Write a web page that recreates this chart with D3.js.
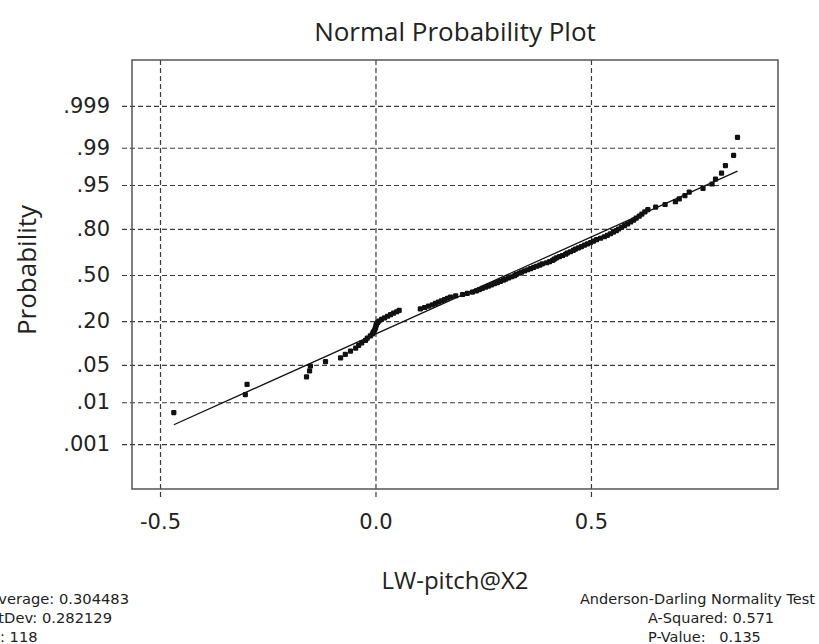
<!DOCTYPE html>
<html lang="en">
<head>
    <meta charset="UTF-8">
    <title>Normal Probability Plot</title>
    <script src="https://cdn.jsdelivr.net/npm/d3@7/dist/d3.min.js"></script>
    <style>
        body { margin: 0; background: #fff; }
        text { font-family: "Open Sans", "Noto Sans", sans-serif; fill: #222; }
        .mono { font-family: "DejaVu Sans", Verdana, sans-serif; }
    </style>
</head>
<body>
<script>
    const values = [
        -0.468, -0.302, -0.298, -0.160, -0.153, -0.151, -0.116, -0.081, -0.070, -0.058,
        -0.046, -0.039, -0.032, -0.023, -0.019, -0.012, -0.007, -0.005, -0.002, 0.000,
        0.001, 0.002, 0.005, 0.008, 0.014, 0.021, 0.028, 0.035, 0.042, 0.049,
        0.055, 0.104, 0.114, 0.123, 0.132, 0.139, 0.146, 0.153, 0.160, 0.167,
        0.174, 0.186, 0.202, 0.213, 0.225, 0.234, 0.241, 0.248, 0.255, 0.262,
        0.269, 0.276, 0.283, 0.290, 0.297, 0.302, 0.309, 0.316, 0.323, 0.327,
        0.334, 0.339, 0.346, 0.353, 0.360, 0.367, 0.374, 0.381, 0.387, 0.397,
        0.404, 0.411, 0.415, 0.420, 0.427, 0.434, 0.441, 0.445, 0.452, 0.459,
        0.464, 0.471, 0.478, 0.485, 0.492, 0.499, 0.506, 0.513, 0.522, 0.531,
        0.538, 0.545, 0.552, 0.559, 0.564, 0.571, 0.578, 0.585, 0.592, 0.599,
        0.605, 0.612, 0.618, 0.625, 0.632, 0.650, 0.672, 0.696, 0.705, 0.718,
        0.728, 0.760, 0.781, 0.789, 0.803, 0.812, 0.831, 0.840
    ];
    const average = 0.304483;
    const stDev = 0.282129;
    const aSquared = 0.571;
    const pValue = 0.135;

    const xTicks = [-0.5, 0.0, 0.5];
    const xTickLabels = ["-0.5", "0.0", "0.5"];
    const probTicks = [0.999, 0.99, 0.95, 0.80, 0.50, 0.20, 0.05, 0.01, 0.001];
    const probTickLabels = [".999", ".99", ".95", ".80", ".50", ".20", ".05", ".01", ".001"];

    // inverse standard normal cdf (Acklam)
    function qnorm(p) {
        const a = [-39.69683028665376, 220.9460984245205, -275.9285104469687, 138.3577518672690, -30.66479806614716, 2.506628277459239];
        const b = [-54.47609879822406, 161.5858368580409, -155.6989798598866, 66.80131188771972, -13.28068155288572];
        const c = [-0.007784894002430293, -0.3223964580411365, -2.400758277161838, -2.549732539343734, 4.374664141464968, 2.938163982698783];
        const d = [0.007784695709041462, 0.3224671290700398, 2.445134137142996, 3.754408661907416];
        const pl = 0.02425;
        let q, r;
        if (p < pl) {
            q = Math.sqrt(-2 * Math.log(p));
            return (((((c[0]*q+c[1])*q+c[2])*q+c[3])*q+c[4])*q+c[5]) / ((((d[0]*q+d[1])*q+d[2])*q+d[3])*q+1);
        } else if (p <= 1 - pl) {
            q = p - 0.5; r = q*q;
            return (((((a[0]*r+a[1])*r+a[2])*r+a[3])*r+a[4])*r+a[5])*q / (((((b[0]*r+b[1])*r+b[2])*r+b[3])*r+b[4])*r+1);
        } else {
            q = Math.sqrt(-2 * Math.log(1 - p));
            return -(((((c[0]*q+c[1])*q+c[2])*q+c[3])*q+c[4])*q+c[5]) / ((((d[0]*q+d[1])*q+d[2])*q+d[3])*q+1);
        }
    }

    let width = 819;
    let height = 644;
    let margin = { top: 60, right: 41, bottom: 155, left: 132 };

    let svg = d3.select("body").append("svg")
        .attr("width", width)
        .attr("height", height);

    let x = d3.scaleLinear()
        .domain([-0.565, 0.934])
        .range([margin.left, width - margin.right]);

    let y = d3.scaleLinear()
        .domain([-3.912, 3.93])
        .range([height - margin.bottom, margin.top]);

    const n = values.length;
    const points = values.map((v, i) => ({ v: v, z: qnorm((i + 1 - 0.3) / (n + 0.4)) }));

    // grid lines (dashed), running a little past the frame as ticks
    let yAxis = d3.axisLeft(y)
        .tickValues(probTicks.map(qnorm))
        .tickFormat((d, i) => probTickLabels[i])
        .tickSizeOuter(0);

    let gy = svg.append("g")
        .attr("transform", `translate(${margin.left - 10},0)`)
        .call(yAxis);
    gy.select(".domain").remove();
    gy.selectAll("line")
        .attr("x1", 0)
        .attr("x2", width - margin.right - margin.left + 10)
        .attr("stroke", "#3a3a3a")
        .attr("stroke-width", 1.2)
        .attr("stroke-dasharray", "5,3");
    gy.selectAll("text")
        .attr("class", "mono")
        .attr("x", -12)
        .attr("font-size", "21px")
        .style("fill", "#222");

    let xAxis = d3.axisBottom(x)
        .tickValues(xTicks)
        .tickFormat((d, i) => xTickLabels[i])
        .tickSizeOuter(0);

    let gx = svg.append("g")
        .attr("transform", `translate(0,${margin.top})`)
        .call(xAxis);
    gx.select(".domain").remove();
    gx.selectAll("line")
        .attr("y1", 0)
        .attr("y2", height - margin.bottom - margin.top + 8)
        .attr("stroke", "#3a3a3a")
        .attr("stroke-width", 1.2)
        .attr("stroke-dasharray", "5,3");
    gx.selectAll("text")
        .attr("class", "mono")
        .attr("y", height - margin.bottom - margin.top + 25)
        .attr("dy", "0.71em")
        .attr("font-size", "21px")
        .style("fill", "#222");

    // frame
    svg.append("rect")
        .attr("x", margin.left)
        .attr("y", margin.top)
        .attr("width", width - margin.left - margin.right)
        .attr("height", height - margin.top - margin.bottom)
        .attr("fill", "none")
        .attr("stroke", "#555")
        .attr("stroke-width", 1.5);

    // fitted line from average / stdev
    let xMin = d3.min(values), xMax = d3.max(values);
    let fit = d3.line()
        .x(d => x(d))
        .y(d => y((d - average) / stDev));
    svg.append("path")
        .attr("d", fit([xMin, xMax]))
        .attr("stroke", "#111")
        .attr("stroke-width", 1.3)
        .attr("fill", "none");

    // points
    svg.append("g").selectAll("rect")
        .data(points)
        .join("rect")
        .attr("x", d => x(d.v) - 2.6)
        .attr("y", d => y(d.z) - 2.6)
        .attr("width", 5.2)
        .attr("height", 5.2)
        .attr("rx", 1.2)
        .attr("fill", "#111");

    // titles
    svg.append("text")
        .attr("x", 455)
        .attr("y", 41)
        .attr("text-anchor", "middle")
        .attr("font-size", "26px")
        .text("Normal Probability Plot");

    svg.append("text")
        .attr("transform", "translate(36,270) rotate(-90)")
        .attr("text-anchor", "middle")
        .attr("font-size", "26px")
        .text("Probability");

    svg.append("text")
        .attr("x", 455)
        .attr("y", 589)
        .attr("text-anchor", "middle")
        .attr("font-size", "24px")
        .text("LW-pitch@X2");

    // stats
    const leftStats = ["Average: " + average, "StDev: " + stDev, "N: " + n];
    svg.append("g").selectAll("text")
        .data(leftStats)
        .join("text")
        .attr("class", "mono")
        .attr("x", -11)
        .attr("y", (d, i) => 604 + i * 19)
        .attr("font-size", "14.7px")
        .text(d => d);

    svg.append("text")
        .attr("class", "mono")
        .attr("x", 815)
        .attr("y", 604)
        .attr("text-anchor", "end")
        .attr("font-size", "14.5px")
        .text("Anderson-Darling Normality Test");
    svg.append("text")
        .attr("class", "mono")
        .attr("x", 648)
        .attr("y", 623)
        .attr("font-size", "14.5px")
        .text("A-Squared: " + aSquared.toFixed(3));
    svg.append("text")
        .attr("class", "mono")
        .attr("x", 648)
        .attr("y", 642)
        .attr("font-size", "14.5px")
        .style("white-space", "pre")
        .text("P-Value:   " + pValue.toFixed(3));
</script>
</body>
</html>
